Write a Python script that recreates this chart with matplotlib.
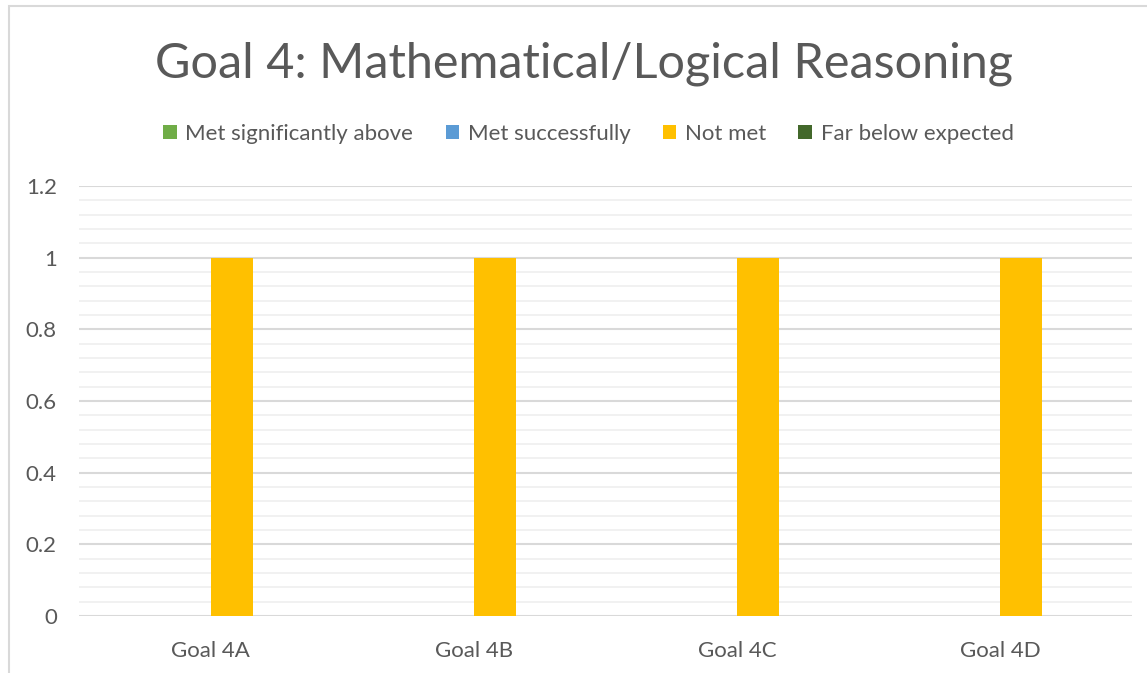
import numpy as np
import matplotlib.pyplot as plt
from matplotlib.patches import Rectangle, Patch

categories = ['Goal 4A', 'Goal 4B', 'Goal 4C', 'Goal 4D']
series_names = ['Met significantly above', 'Met successfully', 'Not met', 'Far below expected']
met_above = [0, 0, 0, 0]
met_success = [0, 0, 0, 0]
not_met = [1, 1, 1, 1]
far_below = [0, 0, 0, 0]
colors = ['#70AD47', '#5B9BD5', '#FFC000', '#43682B']

plt.rcParams['font.family'] = ['Lato', 'DejaVu Sans']
text_col = '#595959'

fig = plt.figure(figsize=(11.47, 6.73), dpi=100)
# chart border
fig.patches.append(Rectangle((9 / 1147, -0.05), 1.1, 1 - 6.5 / 673 + 0.05,
                             transform=fig.transFigure, fill=False,
                             edgecolor='#d9d9d9', linewidth=1.5))

ax = fig.add_axes([79 / 1147, 1 - 616 / 673, (1132 - 79) / 1147, (616 - 186) / 673])

x = np.arange(len(categories))
w = 0.16
all_series = [met_above, met_success, not_met, far_below]
for i, (vals, name, c) in enumerate(zip(all_series, series_names, colors)):
    ax.bar(x + (i - 1.5) * w, vals, width=w, color=c, label=name, zorder=3)

ax.set_xlim(-0.5, len(categories) - 0.5)
ax.set_ylim(0, 1.2)
ax.set_yticks(np.arange(0, 1.21, 0.2))
ax.set_yticklabels(['0', '0.2', '0.4', '0.6', '0.8', '1', '1.2'])
ax.set_yticks(np.arange(0, 1.21, 0.04), minor=True)
ax.set_xticks(x)
ax.set_xticklabels(categories)

ax.grid(axis='y', which='major', color='#d9d9d9', linewidth=1.5, zorder=1)
ax.grid(axis='y', which='minor', color='#efefef', linewidth=1.2, zorder=0)
for s in ax.spines.values():
    s.set_visible(False)
ax.tick_params(axis='both', which='both', length=0, labelsize=16, labelcolor=text_col)
ax.tick_params(axis='y', pad=16)
ax.tick_params(axis='x', pad=18)

fig.text(0.509, 1 - 64 / 673, 'Goal 4: Mathematical/Logical Reasoning', ha='center', va='center',
         fontsize=35, color=text_col, fontweight='normal')

handles = [Patch(facecolor=c, edgecolor='none') for c in colors]
fig.legend(handles, series_names, loc='center', bbox_to_anchor=(0.513, 1 - 134 / 673), ncol=4,
           frameon=False, fontsize=16, labelcolor=text_col, handlelength=0.6, handleheight=0.6,
           handletextpad=0.4, columnspacing=1.45)

fig.savefig('out.png', dpi=100)
